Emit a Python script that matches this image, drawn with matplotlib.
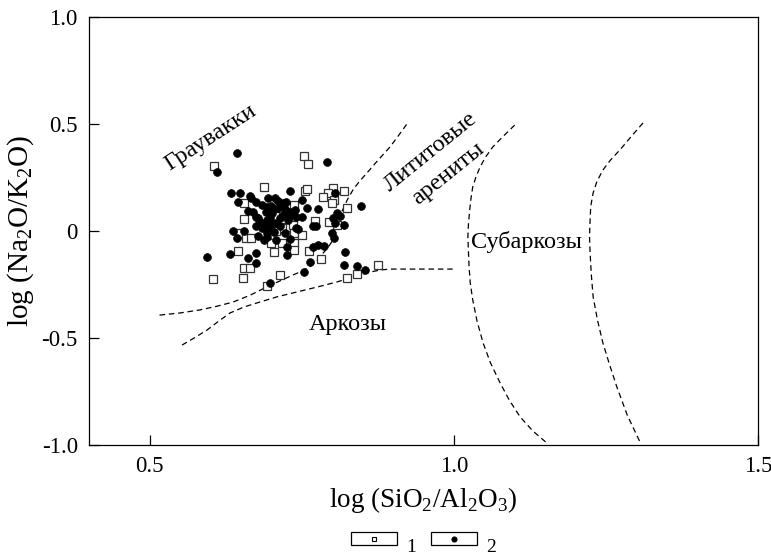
import matplotlib
matplotlib.use("Agg")
import matplotlib.pyplot as plt
from matplotlib.patches import Rectangle
from matplotlib.lines import Line2D

plt.rcParams['font.family'] = ['Liberation Serif', 'DejaVu Serif']
plt.rcParams['mathtext.fontset'] = 'custom'
plt.rcParams['mathtext.rm'] = 'Liberation Serif'

# ---- data: group 1 (open squares) ----
sq_x = [0.606, 0.754, 0.760, 0.688, 0.755, 0.759, 0.801, 0.819, 0.793, 0.784,
        0.803, 0.800, 0.655, 0.737, 0.825, 0.710, 0.706, 0.655, 0.771, 0.794,
        0.807, 0.648, 0.726, 0.736, 0.717, 0.659, 0.667, 0.700, 0.717, 0.737,
        0.737, 0.704, 0.762, 0.645, 0.781, 0.875, 0.655, 0.664, 0.714, 0.604,
        0.653, 0.841, 0.825, 0.693, 0.737, 0.750, 0.707]
sq_y = [0.304, 0.352, 0.313, 0.204, 0.188, 0.196, 0.200, 0.188, 0.176, 0.157,
        0.145, 0.132, 0.129, 0.121, 0.106, 0.095, 0.070, 0.055, 0.048, 0.043,
        0.028, -0.008, 0.017, 0.028, 0.013, -0.031, -0.031, -0.057, -0.055, -0.055,
        -0.089, -0.098, -0.093, -0.093, -0.129, -0.159, -0.171, -0.174, -0.206, -0.226,
        -0.218, -0.202, -0.218, -0.256, -0.011, -0.019, 0.000]

# ---- data: group 2 (filled circles) ----
dot_x = [0.643, 0.611, 0.791, 0.633, 0.649, 0.730, 0.804, 0.645, 0.666, 0.675,
         0.706, 0.750, 0.758, 0.776, 0.847, 0.662, 0.670, 0.808, 0.813, 0.801,
         0.678, 0.768, 0.774, 0.819, 0.637, 0.655, 0.643, 0.692, 0.744, 0.803,
         0.800, 0.725, 0.769, 0.776, 0.787, 0.821, 0.594, 0.632, 0.674, 0.662,
         0.726, 0.675, 0.764, 0.819, 0.840, 0.854, 0.753, 0.697,
         0.664, 0.711, 0.719, 0.692, 0.699, 0.722, 0.731, 0.675, 0.692, 0.714,
         0.733, 0.741, 0.750, 0.689, 0.700, 0.708, 0.741, 0.804, 0.692,
         0.684, 0.691, 0.701, 0.711, 0.719, 0.727, 0.684, 0.694, 0.704, 0.714,
         0.722, 0.707, 0.688, 0.678, 0.730, 0.697, 0.681, 0.724, 0.738, 0.694,
         0.674]
dot_y = [0.366, 0.277, 0.324, 0.176, 0.176, 0.188, 0.176, 0.134, 0.153, 0.134,
         0.153, 0.145, 0.106, 0.103, 0.118, 0.095, 0.090, 0.086, 0.070, 0.062,
         0.059, 0.023, 0.023, 0.028, 0.001, 0.001, -0.034, -0.027, 0.008, -0.031,
         -0.011, -0.073, -0.073, -0.065, -0.069, -0.097, -0.120, -0.107, -0.104, -0.128,
         -0.112, -0.151, -0.145, -0.159, -0.164, -0.182, -0.190, -0.242,
         0.164, 0.142, 0.132, 0.114, 0.117, 0.101, 0.090, 0.067, 0.051, 0.059,
         0.075, 0.067, 0.067, 0.028, 0.028, 0.036, 0.013, 0.036, -0.011,
         0.121, 0.089, 0.084, 0.107, 0.075, 0.051, 0.014, 0.005, -0.005, 0.023,
         -0.009, -0.042, -0.042, -0.023, -0.037, 0.061, 0.042, 0.136, 0.098, 0.154,
         0.023]

# ---- field boundaries (dashed) ----
b1_x = [0.516, 0.550, 0.582, 0.610, 0.637, 0.665, 0.692, 0.715, 0.735, 0.750, 0.763, 0.775,
        0.785, 0.793, 0.799, 0.804, 0.808, 0.812, 0.817, 0.825, 0.834, 0.845, 0.857, 0.875,
        0.895, 0.910, 0.924]
b1_y = [-0.393, -0.383, -0.369, -0.352, -0.332, -0.300, -0.262, -0.232, -0.206, -0.188, -0.168, -0.138,
        -0.103, -0.078, -0.051, -0.015, 0.019, 0.058, 0.098, 0.147, 0.192, 0.233, 0.271, 0.330,
        0.393, 0.450, 0.505]
b2_x = [0.553, 0.573, 0.594, 0.613, 0.632, 0.655, 0.681, 0.710, 0.742, 0.775, 0.808, 0.834,
        0.862, 0.880, 0.895, 0.939, 0.998]
b2_y = [-0.533, -0.500, -0.463, -0.422, -0.383, -0.355, -0.332, -0.307, -0.285, -0.262, -0.238, -0.215,
        -0.192, -0.182, -0.178, -0.178, -0.178]
b3_x = [1.100, 1.082, 1.064, 1.052, 1.043, 1.036, 1.031, 1.028, 1.026, 1.024, 1.023, 1.024,
        1.025, 1.027, 1.031, 1.038, 1.048, 1.060, 1.076, 1.091, 1.109, 1.130, 1.153]
b3_y = [0.495, 0.445, 0.393, 0.345, 0.299, 0.250, 0.206, 0.150, 0.098, 0.035, -0.028, -0.100,
        -0.168, -0.245, -0.322, -0.420, -0.523, -0.615, -0.710, -0.790, -0.869, -0.935, -0.991]
b4_x = [1.311, 1.292, 1.273, 1.257, 1.245, 1.235, 1.229, 1.225, 1.224, 1.223, 1.224, 1.226,
        1.229, 1.236, 1.245, 1.256, 1.268, 1.285, 1.306]
b4_y = [0.505, 0.443, 0.379, 0.330, 0.285, 0.230, 0.178, 0.115, 0.051, -0.025, -0.103, -0.205,
        -0.308, -0.415, -0.523, -0.625, -0.729, -0.860, -0.986]

x_ticks = [0.5, 1.0, 1.5]
x_ticklabels = ['0.5', '1.0', '1.5']
y_ticks = [1.0, 0.5, 0.0, -0.5, -1.0]
y_ticklabels = ['1.0', '0.5', '0', '-0.5', '-1.0']

fig = plt.figure(figsize=(7.71, 5.60), dpi=100)
ax = fig.add_axes([0.1154, 0.2054, 0.8677, 0.7642])

dash = (0, (4.5, 3))
for bx, by in [(b1_x, b1_y), (b2_x, b2_y), (b3_x, b3_y), (b4_x, b4_y)]:
    ax.plot(bx, by, color='black', lw=0.9, linestyle=dash)

ax.plot(sq_x, sq_y, linestyle='none', marker='s', markersize=5.2,
        markerfacecolor='white', markeredgecolor='#333333', markeredgewidth=0.9)
ax.plot(dot_x, dot_y, linestyle='none', marker='o', markersize=5.6,
        markerfacecolor='black', markeredgecolor='black', markeredgewidth=0.5)

ax.set_xlim(0.4, 1.5)
ax.set_ylim(-1.0, 1.0)
ax.set_xticks(x_ticks)
ax.set_xticklabels(x_ticklabels)
ax.set_yticks(y_ticks)
ax.set_yticklabels(y_ticklabels)
ax.tick_params(direction='in', length=7, width=0.9, labelsize=16.5, pad=8)
for s in ax.spines.values():
    s.set_linewidth(0.9)

ax.set_xlabel(r'log (SiO$_\mathregular{2}$/Al$_\mathregular{2}$O$_\mathregular{3}$)', fontsize=19.5, labelpad=6)
ax.set_ylabel(r'log (Na$_\mathregular{2}$O/K$_\mathregular{2}$O)', fontsize=21, labelpad=4)

ax.text(0.599, 0.437, 'Граувакки', rotation=33, fontsize=17.5, ha='center', va='center')
ax.text(0.962, 0.371, 'Лититовые', rotation=39, fontsize=17.5, ha='center', va='center')
ax.text(0.991, 0.266, 'арениты', rotation=39, fontsize=17.5, ha='center', va='center')
ax.text(1.120, -0.05, 'Субаркозы', fontsize=17.5, ha='center', va='center')
ax.text(0.825, -0.439, 'Аркозы', fontsize=17.5, ha='center', va='center')

# ---- legend at bottom ----
W, H = 771.0, 560.0
for x0, lab, mk, ms, fc in [(351, '1', 's', 3.2, 'white'), (431, '2', 'o', 3.6, 'black')]:
    fig.add_artist(Rectangle((x0 / W, (H - 545) / H), 46 / W, 13 / H,
                             transform=fig.transFigure, fill=False, edgecolor='black', lw=0.9))
    fig.add_artist(Line2D([(x0 + 23) / W], [(H - 538.5) / H], transform=fig.transFigure,
                          marker=mk, markersize=ms, markerfacecolor=fc,
                          markeredgecolor='black', markeredgewidth=0.8, linestyle='none'))
    fig.text((x0 + 55) / W, (H - 556) / H, lab, fontsize=14, ha='left', va='bottom')

fig.savefig('out.png', dpi=100)
